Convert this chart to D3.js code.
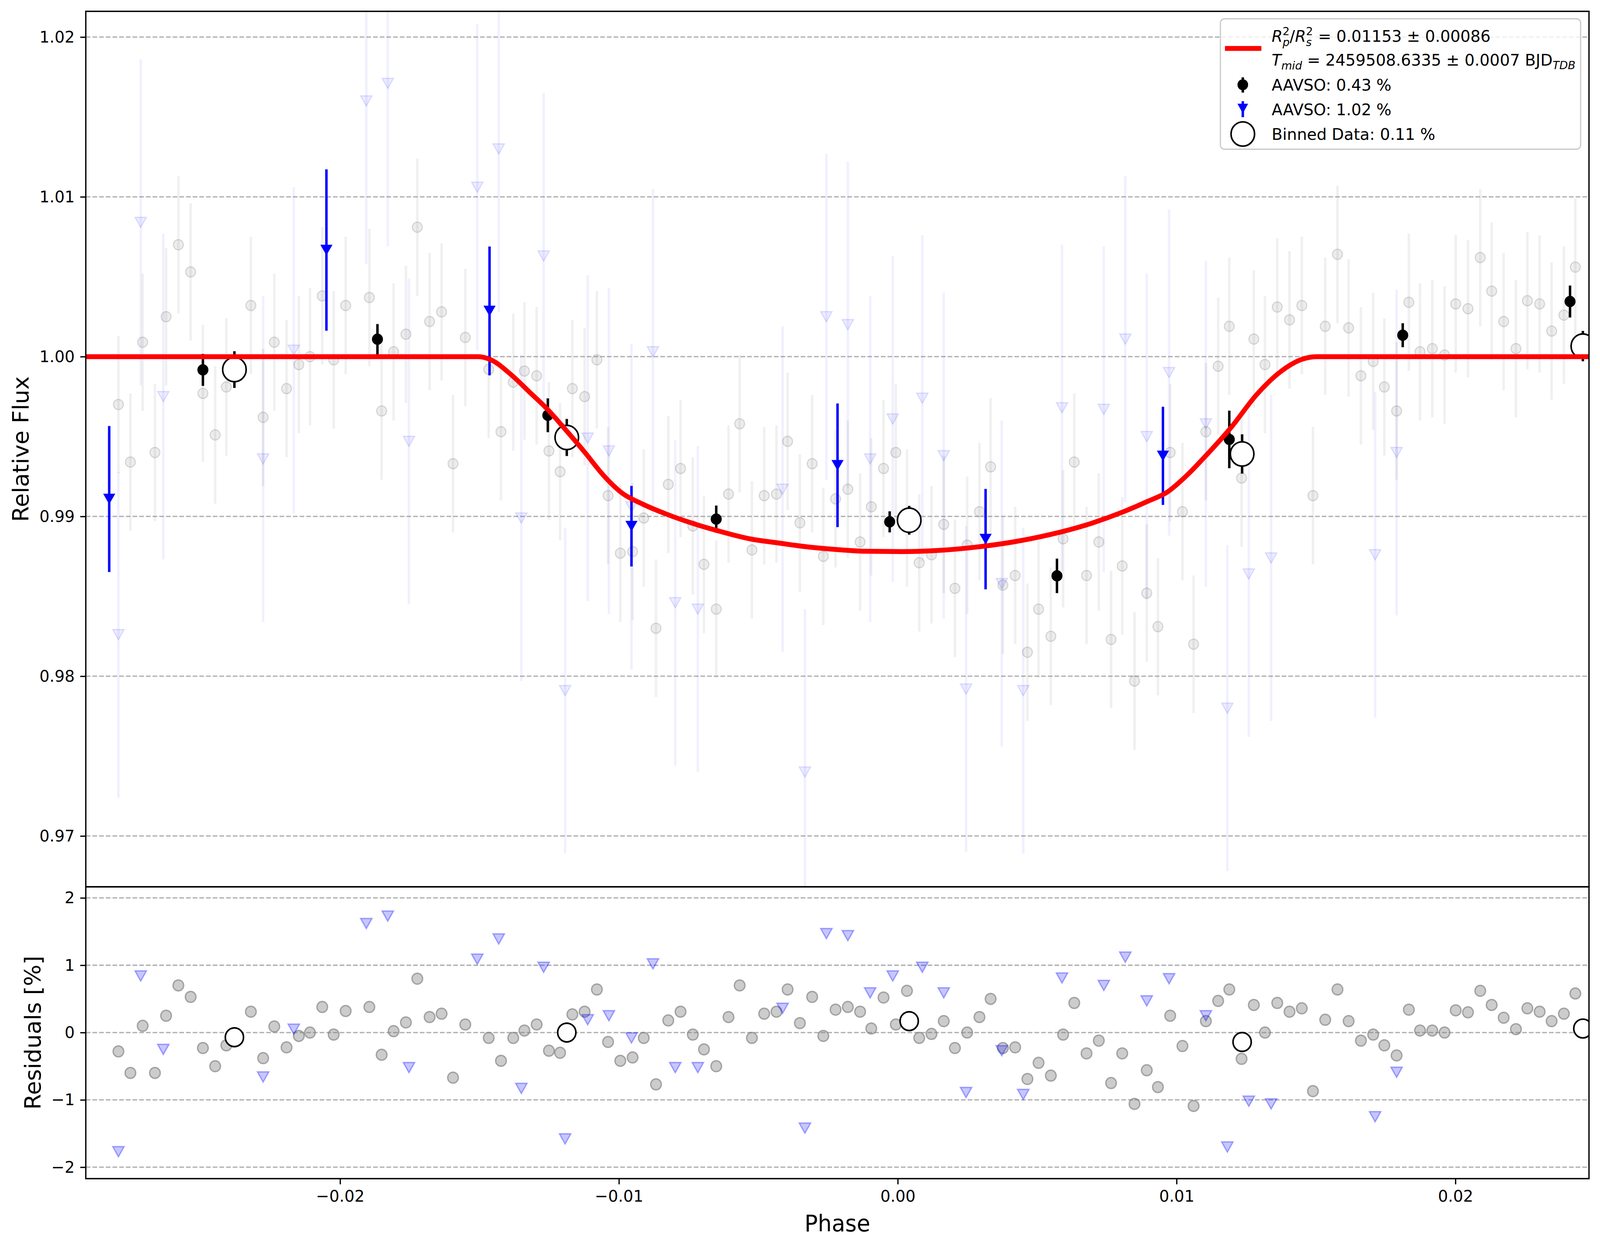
<!DOCTYPE html>
<html>
<head>
<meta charset="utf-8">
<script src="https://cdn.jsdelivr.net/npm/d3@7"></script>
<style>
  html, body { margin: 0; padding: 0; background: #fff; overflow: hidden; }
  svg { display: block; width: 100vw; height: 100vh; font-family: "DejaVu Sans", sans-serif; }
</style>
</head>
<body>
<script>
// ---- data ----
// raw points, first AAVSO set (0.43 %)
const grayPhase = [-0.02795,-0.02752,-0.02708,-0.02664,-0.02624,-0.02580,-0.02536,-0.02492,-0.02448,-0.02408,
  -0.02320,-0.02276,-0.02236,-0.02192,-0.02148,-0.02108,-0.02064,-0.02023,-0.01980,-0.01895,
  -0.01851,-0.01808,-0.01764,-0.01723,-0.01679,-0.01636,-0.01595,-0.01551,-0.01467,-0.01423,
  -0.01379,-0.01339,-0.01295,-0.01251,-0.01211,-0.01167,-0.01123,-0.01079,-0.01039,-0.00995,
  -0.00951,-0.00911,-0.00867,-0.00823,-0.00779,-0.00735,-0.00695,-0.00651,-0.00607,-0.00567,
  -0.00523,-0.00479,-0.00435,-0.00395,-0.00351,-0.00307,-0.00267,-0.00223,-0.00179,-0.00135,
  -0.00095,-0.00051,-0.00007,0.00033,0.00077,0.00121,0.00165,0.00205,0.00249,0.00293,
  0.00333,0.00377,0.00421,0.00465,0.00505,0.00549,0.00593,0.00633,0.00677,0.00721,
  0.00765,0.00805,0.00849,0.00893,0.00933,0.00977,0.01021,0.01061,0.01105,0.01149,
  0.01189,0.01233,0.01277,0.01317,0.01361,0.01405,0.01449,0.01489,0.01533,0.01577,
  0.01617,0.01661,0.01705,0.01745,0.01789,0.01833,0.01873,0.01917,0.01961,0.02001,
  0.02045,0.02089,0.02130,0.02173,0.02217,0.02258,0.02302,0.02345,0.02389,0.02430];
const grayFlux = [0.9970,0.9934,1.0009,0.9940,1.0025,1.0070,1.0053,0.9977,0.9951,0.9981,
  1.0032,0.9962,1.0009,0.9980,0.9995,1.0000,1.0038,0.9998,1.0032,1.0037,
  0.9966,1.0003,1.0014,1.0081,1.0022,1.0028,0.9933,1.0012,0.9992,0.9953,
  0.9984,0.9991,0.9988,0.9941,0.9928,0.9980,0.9975,0.9998,0.9913,0.9877,
  0.9878,0.9899,0.9830,0.9920,0.9930,0.9894,0.9870,0.9842,0.9914,0.9958,
  0.9879,0.9913,0.9914,0.9947,0.9896,0.9933,0.9875,0.9911,0.9917,0.9884,
  0.9906,0.9930,0.9940,0.9899,0.9871,0.9876,0.9895,0.9855,0.9882,0.9903,
  0.9931,0.9857,0.9863,0.9815,0.9842,0.9825,0.9886,0.9934,0.9863,0.9884,
  0.9823,0.9869,0.9797,0.9852,0.9831,0.9940,0.9903,0.9820,0.9953,0.9994,
  1.0019,0.9924,1.0011,0.9995,1.0031,1.0023,1.0032,0.9913,1.0019,1.0064,
  1.0018,0.9988,0.9997,0.9981,0.9966,1.0034,1.0003,1.0005,1.0001,1.0033,
  1.0030,1.0062,1.0041,1.0022,1.0005,1.0035,1.0033,1.0016,1.0026,1.0056];
const grayResid = [-0.28,-0.6,0.1,-0.6,0.25,0.7,0.53,-0.23,-0.5,-0.19,
  0.31,-0.38,0.09,-0.22,-0.05,0.0,0.38,-0.03,0.32,0.38,
  -0.33,0.02,0.15,0.8,0.23,0.28,-0.67,0.12,-0.08,-0.42,
  -0.08,0.03,0.12,-0.27,-0.3,0.27,0.31,0.64,-0.14,-0.42,
  -0.37,-0.08,-0.77,0.18,0.31,-0.03,-0.25,-0.5,0.23,0.7,
  -0.08,0.28,0.31,0.64,0.14,0.53,-0.05,0.34,0.38,0.31,
  0.06,0.52,0.12,0.62,-0.08,-0.02,0.17,-0.23,0,0.23,
  0.5,-0.23,-0.22,-0.69,-0.45,-0.64,-0.03,0.44,-0.31,-0.12,
  -0.75,-0.31,-1.06,-0.56,-0.81,0.25,-0.2,-1.09,0.17,0.47,
  0.64,-0.39,0.41,0,0.44,0.31,0.36,-0.87,0.19,0.64,
  0.17,-0.12,-0.03,-0.19,-0.34,0.34,0.03,0.03,0,0.33,
  0.3,0.62,0.41,0.22,0.05,0.36,0.31,0.17,0.28,0.58];
const grayErr = 0.0043;

// raw points, second AAVSO set (1.02 %)
const bluePhase = [-0.02795,-0.02715,-0.02634,-0.02276,-0.02166,-0.01906,-0.01829,-0.01753,-0.01508,-0.01431,
  -0.01350,-0.01270,-0.01193,-0.01112,-0.01036,-0.00955,-0.00878,-0.00798,-0.00717,-0.00413,
  -0.00333,-0.00256,-0.00179,-0.00099,-0.00018,0.00088,0.00165,0.00245,0.00373,0.00450,
  0.00589,0.00739,0.00816,0.00893,0.00973,0.01105,0.01182,0.01259,0.01339,0.01712,0.01789];
const blueFlux = [0.9826,1.0084,0.9975,0.9936,1.0004,1.0160,1.0171,0.9947,1.0106,1.0130,
  0.9899,1.0063,0.9791,0.9949,0.9941,0.9906,1.0003,0.9846,0.9842,0.9917,
  0.9740,1.0025,1.0020,0.9936,0.9961,0.9974,0.9938,0.9792,0.9858,0.9791,
  0.9968,0.9967,1.0011,0.9950,0.9990,0.9958,0.9780,0.9864,0.9874,0.9876,0.9940];
const blueResid = [-1.77,0.84,-0.25,-0.66,0.05,1.62,1.73,-0.52,1.09,1.39,
  -0.83,0.97,-1.58,0.19,0.25,-0.08,1.02,-0.52,-0.52,0.36,
  -1.42,1.47,1.44,0.59,0.84,0.97,0.59,-0.89,-0.27,-0.92,
  0.81,0.70,1.12,0.47,0.80,0.25,-1.7,-1.02,-1.06,-1.25,-0.59];
const blueErr = 0.0102;

// binned per set
const bin1Phase = [-0.02492,-0.01866,-0.01255,-0.00651,-0.00029,0.00571,0.01189,0.01811,0.02411];
const bin1Flux  = [0.99917,1.00109,0.99633,0.98983,0.98966,0.98628,0.99482,1.00134,1.00345];
const bin1Err   = [0.0010,0.00095,0.00106,0.00085,0.00066,0.00108,0.0018,0.00075,0.0010];
const bin2Phase = [-0.02828,-0.02049,-0.01464,-0.00955,-0.00216,0.00315,0.00951];
const bin2Flux  = [0.99109,1.00667,1.00286,0.98939,0.99320,0.98858,0.99379];
const bin2Err   = [0.00457,0.00505,0.00403,0.00252,0.00387,0.00314,0.00307];

// binned, all data
const binPhase = [-0.02379,-0.01187,0.00041,0.01235,0.02457];
const binFlux  = [0.99919,0.99494,0.98976,0.99391,1.00066];
const binErr   = [0.00115,0.00116,0.0009,0.00123,0.00095];
const binResid = [-0.07,0.0,0.17,-0.14,0.06];

// transit model
const modelPhase = [-0.0292,-0.01504,-0.01465,-0.01384,-0.01323,-0.01256,-0.0119,-0.01119,-0.01058,-0.00987,
  -0.00916,-0.00826,-0.00738,-0.00649,-0.00525,-0.00437,-0.00313,-0.002,-0.00121,0.00011,
  0.00144,0.00276,0.0041,0.00543,0.00675,0.00809,0.00897,0.00968,0.01029,0.01107,
  0.01197,0.01286,0.01376,0.01449,0.01502,0.0248];
const modelFlux = [1,1,0.99985,0.99883,0.99782,0.9967,0.9954,0.99394,0.99262,0.99144,
  0.99078,0.99012,0.98958,0.98912,0.98858,0.98836,0.98807,0.9879,0.98782,0.9878,
  0.98787,0.98807,0.98839,0.98885,0.98946,0.99029,0.99095,0.99154,0.99244,0.99384,
  0.9956,0.9976,0.9991,0.99983,1,1];

const fluxTicks  = [0.97, 0.98, 0.99, 1.00, 1.01, 1.02];
const residTicks = [-2, -1, 0, 1, 2];
const phaseTicks = [-0.02, -0.01, 0.00, 0.01, 0.02];

// ---- layout ----
const width = 4215, height = 3192;
const axLeft = 226, axRight = 4186, axTop = 29, axMid = 2270, axBottom = 3017;
const tickFont = 41.7, labelFont = 58, tickLen = 14.6;

const svg = d3.select('body').append('svg')
  .attr('viewBox', `0 0 ${width} ${height}`)
  .attr('preserveAspectRatio', 'none')
  .style('background', '#fff');

const x = d3.scaleLinear().domain([-0.02912, 0.02479]).range([axLeft, axRight]);
const yMain = d3.scaleLinear().domain([0.96682, 1.02161]).range([axMid, axTop]);
const yRes = d3.scaleLinear().domain([-2.17, 2.165]).range([axBottom, axMid]);

const defs = svg.append('defs');
defs.append('clipPath').attr('id', 'clipMain')
  .append('rect').attr('x', axLeft).attr('y', axTop).attr('width', axRight - axLeft).attr('height', axMid - axTop);
defs.append('clipPath').attr('id', 'clipRes')
  .append('rect').attr('x', axLeft).attr('y', axMid).attr('width', axRight - axLeft).attr('height', axBottom - axMid);

// dashed grid
function grid(ticks, scale) {
  svg.append('g').selectAll('line').data(ticks).join('line')
    .attr('x1', axLeft).attr('x2', axRight)
    .attr('y1', d => scale(d)).attr('y2', d => scale(d))
    .attr('stroke', '#b0b0b0').attr('stroke-width', 3.3)
    .attr('stroke-dasharray', '12.3,5.3');
}
grid(fluxTicks, yMain);
grid(residTicks, yRes);

const tri = (a, h) => `M${-a},${-h / 2}L${a},${-h / 2}L0,${h / 2}Z`;
const val = (v, i) => Array.isArray(v) ? v[i] : v;

function errbars(g, ph, ys, err, scale, color, w) {
  g.append('g').selectAll('line').data(d3.range(ph.length)).join('line')
    .attr('x1', i => x(ph[i])).attr('x2', i => x(ph[i]))
    .attr('y1', i => scale(ys[i] - val(err, i)))
    .attr('y2', i => scale(ys[i] + val(err, i)))
    .attr('stroke', color).attr('stroke-width', w);
}
function circles(g, ph, ys, scale, r, fill, stroke, sw) {
  g.append('g').selectAll('circle').data(d3.range(ph.length)).join('circle')
    .attr('cx', i => x(ph[i])).attr('cy', i => scale(ys[i])).attr('r', r)
    .attr('fill', fill).attr('stroke', stroke).attr('stroke-width', sw);
}
function triangles(g, ph, ys, scale, a, h, fill, stroke, sw) {
  g.append('g').selectAll('path').data(d3.range(ph.length)).join('path')
    .attr('d', tri(a, h))
    .attr('transform', i => `translate(${x(ph[i])},${scale(ys[i])})`)
    .attr('fill', fill).attr('stroke', stroke).attr('stroke-width', sw);
}

// ---- main panel ----
const gm = svg.append('g').attr('clip-path', 'url(#clipMain)');
errbars(gm, grayPhase, grayFlux, grayErr, yMain, 'rgba(128,128,128,0.12)', 6.5);
circles(gm, grayPhase, grayFlux, yMain, 13, 'rgba(128,128,128,0.14)', 'rgba(128,128,128,0.28)', 3);
errbars(gm, bluePhase, blueFlux, blueErr, yMain, 'rgba(0,0,255,0.06)', 6.5);
triangles(gm, bluePhase, blueFlux, yMain, 15, 26, 'rgba(0,0,255,0.07)', 'rgba(0,0,255,0.12)', 3);

errbars(gm, bin1Phase, bin1Flux, bin1Err, yMain, '#000', 6.5);
circles(gm, bin1Phase, bin1Flux, yMain, 14.5, '#000', 'none', 0);
errbars(gm, bin2Phase, bin2Flux, bin2Err, yMain, '#0000ff', 6.5);
triangles(gm, bin2Phase, bin2Flux, yMain, 16, 27, '#0000ff', 'none', 0);

errbars(gm, binPhase, binFlux, binErr, yMain, '#000', 6.5);
circles(gm, binPhase, binFlux, yMain, 31, '#fff', '#000', 4.2);

const line = d3.line()
  .x((d, i) => x(modelPhase[i]))
  .y((d, i) => yMain(modelFlux[i]))
  .curve(d3.curveMonotoneX);
gm.append('path').datum(modelPhase)
  .attr('d', line)
  .attr('fill', 'none').attr('stroke', '#ff0000').attr('stroke-width', 12.5)
  .attr('stroke-linejoin', 'round');

// ---- residual panel ----
const gr = svg.append('g').attr('clip-path', 'url(#clipRes)');
circles(gr, grayPhase, grayResid, yRes, 14, 'rgba(128,128,128,0.4)', 'rgba(128,128,128,0.65)', 3.5);
triangles(gr, bluePhase, blueResid, yRes, 15, 26, 'rgba(0,0,255,0.22)', 'rgba(0,0,255,0.32)', 3.5);
circles(gr, binPhase, binResid, yRes, 24, '#fff', '#000', 4.2);

// ---- axes ----
function yAxis(scale, ticks, fmt) {
  const g = svg.append('g')
    .attr('transform', `translate(${axLeft},0)`)
    .call(d3.axisLeft(scale).tickValues(ticks).tickFormat(fmt)
      .tickSize(tickLen).tickPadding(tickLen));
  g.select('.domain').remove();
  g.selectAll('.tick line').attr('stroke', '#000').attr('stroke-width', 3.3);
  g.selectAll('.tick text').attr('font-size', tickFont).attr('fill', '#000')
    .attr('font-family', '"DejaVu Sans", sans-serif');
}
yAxis(yMain, fluxTicks, d3.format('.2f'));
yAxis(yRes, residTicks, d3.format('d'));

const xa = svg.append('g')
  .attr('transform', `translate(0,${axBottom})`)
  .call(d3.axisBottom(x).tickValues(phaseTicks).tickFormat(d3.format('.2f'))
    .tickSize(tickLen).tickPadding(tickLen));
xa.select('.domain').remove();
xa.selectAll('.tick line').attr('stroke', '#000').attr('stroke-width', 3.3);
xa.selectAll('.tick text').attr('font-size', tickFont).attr('fill', '#000')
  .attr('font-family', '"DejaVu Sans", sans-serif');

// spines
[[axTop, axMid], [axMid, axBottom]].forEach(([a, b]) => {
  svg.append('rect').attr('x', axLeft).attr('y', a)
    .attr('width', axRight - axLeft).attr('height', b - a)
    .attr('fill', 'none').attr('stroke', '#000').attr('stroke-width', 3.5);
});

// axis labels
svg.append('text').attr('transform', `translate(75,${(axTop + axMid) / 2}) rotate(-90)`)
  .attr('text-anchor', 'middle').attr('font-size', labelFont).text('Relative Flux');
svg.append('text').attr('transform', `translate(107,${(axMid + axBottom) / 2}) rotate(-90)`)
  .attr('text-anchor', 'middle').attr('font-size', labelFont).text('Residuals [%]');
svg.append('text').attr('x', (axLeft + axRight) / 2).attr('y', 3152)
  .attr('text-anchor', 'middle').attr('font-size', labelFont).text('Phase');

// ---- legend ----
const lg = svg.append('g');
lg.append('rect').attr('x', 3215).attr('y', 48).attr('width', 949).attr('height', 334)
  .attr('rx', 11).attr('fill', 'rgba(255,255,255,0.8)')
  .attr('stroke', '#cccccc').attr('stroke-width', 3.3);

lg.append('line').attr('x1', 3227).attr('x2', 3323).attr('y1', 124).attr('y2', 124)
  .attr('stroke', '#ff0000').attr('stroke-width', 12.5);

// pieces of mathtext laid out one after another
function mathLine(x0, base, pieces) {
  let cx = x0;
  pieces.forEach(p => {
    const parts = Array.isArray(p) ? p : [p];
    let adv = 0;
    parts.forEach(q => {
      const t = lg.append('text').attr('x', cx).attr('y', base + (q.dy || 0))
        .attr('font-size', q.size || tickFont)
        .attr('font-style', q.it ? 'italic' : 'normal')
        .style('white-space', 'pre')
        .text(q.t);
      adv = Math.max(adv, t.node().getComputedTextLength());
    });
    cx += adv;
  });
}
const small = 29;
mathLine(3350, 107, [
  { t: 'R', it: true },
  [{ t: '2', size: small, dy: -17 }, { t: 'p', it: true, size: small, dy: 11 }],
  { t: '/' },
  { t: 'R', it: true },
  [{ t: '2', size: small, dy: -17 }, { t: 's', it: true, size: small, dy: 11 }],
  { t: ' = 0.01153 \u00b1 0.00086' }
]);
mathLine(3350, 168, [
  { t: 'T', it: true },
  { t: 'mid', it: true, size: small, dy: 10 },
  { t: ' = 2459508.6335 \u00b1 0.0007 BJD' },
  { t: 'TDB', it: true, size: small, dy: 9 }
]);

// handles
lg.append('line').attr('x1', 3274).attr('x2', 3274).attr('y1', 198).attr('y2', 237)
  .attr('stroke', '#000').attr('stroke-width', 6.5);
lg.append('circle').attr('cx', 3274).attr('cy', 217).attr('r', 14).attr('fill', '#000');
lg.append('line').attr('x1', 3274).attr('x2', 3274).attr('y1', 259).attr('y2', 300)
  .attr('stroke', '#0000ff').attr('stroke-width', 6.5);
lg.append('path').attr('d', tri(14, 25)).attr('transform', 'translate(3274,278)').attr('fill', '#0000ff');
lg.append('circle').attr('cx', 3274).attr('cy', 343).attr('r', 31)
  .attr('fill', '#fff').attr('stroke', '#000').attr('stroke-width', 4.2);

const labels = ['AAVSO: 0.43 %', 'AAVSO: 1.02 %', 'Binned Data: 0.11 %'];
const labelBase = [232, 295, 358];
lg.selectAll('text.lab').data(labels).join('text').attr('class', 'lab')
  .attr('x', 3350).attr('y', (d, i) => labelBase[i])
  .attr('font-size', tickFont).text(d => d);
</script>
</body>
</html>
